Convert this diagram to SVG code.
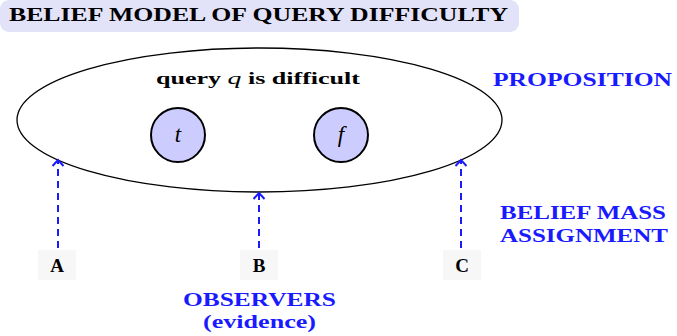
<svg xmlns="http://www.w3.org/2000/svg" width="677" height="336" viewBox="0 0 677 336">
<defs>
<marker id="ah" viewBox="0 0 12 12" refX="8" refY="6" markerWidth="12" markerHeight="12" markerUnits="userSpaceOnUse" orient="auto">
<path d="M2,0.5 L8,6 L2,11.5" fill="none" stroke="#1a1aff" stroke-width="2"/>
</marker>
<style>
text{font-family:"Liberation Serif","DejaVu Serif",serif;}
.t{font-weight:bold;}
.m{font-style:italic;font-weight:normal;}
.blue{fill:#1a1aff;}
.lbl{fill:#f7f7f7;}
.arr{stroke:#1a1aff;stroke-width:2;stroke-dasharray:7,5;fill:none;marker-end:url(#ah);}
.circ{fill:#ccccff;stroke:#000;stroke-width:2;}
</style>
</defs>
<rect width="677" height="336" fill="#fff"/>
<g id="title">
<rect x="0" y="0" width="519" height="32" rx="9" fill="#e2e2f9"/>
<text class="t" x="9" y="21" font-size="18" textLength="499" lengthAdjust="spacingAndGlyphs">BELIEF MODEL OF QUERY DIFFICULTY</text>
</g>
<g id="proposition">
<ellipse cx="259.5" cy="120" rx="242.5" ry="72" fill="none" stroke="#000" stroke-width="1.3"/>
<text class="t" x="258" y="84" font-size="16" text-anchor="middle" textLength="204" lengthAdjust="spacingAndGlyphs">query <tspan class="m" font-size="17">q</tspan> is difficult</text>
</g>
<g id="t">
<circle class="circ" cx="178" cy="135" r="27"/>
<text class="m" x="178" y="142" font-size="23" text-anchor="middle">t</text>
</g>
<g id="f">
<circle class="circ" cx="341" cy="135" r="27"/>
<text class="m" x="341" y="142" font-size="23" text-anchor="middle">f</text>
</g>
<g id="A">
<rect class="lbl" x="38" y="250" width="38" height="30"/>
<text class="t" x="57" y="272" font-size="19" text-anchor="middle">A</text>
</g>
<g id="B">
<rect class="lbl" x="240" y="250" width="38" height="30"/>
<text class="t" x="259" y="272" font-size="19" text-anchor="middle">B</text>
</g>
<g id="C">
<rect class="lbl" x="443" y="250" width="38" height="30"/>
<text class="t" x="462" y="272" font-size="19" text-anchor="middle">C</text>
</g>
<g id="connectors">
<line class="arr" x1="58" y1="248" x2="58" y2="160"/>
<line class="arr" x1="259" y1="248" x2="259" y2="193"/>
<line class="arr" x1="461" y1="248" x2="461" y2="160"/>
</g>
<g id="annotations">
<text class="t blue" x="493" y="86" font-size="18" textLength="179" lengthAdjust="spacingAndGlyphs">PROPOSITION</text>
<text class="t blue" x="500" y="219" font-size="18" textLength="166" lengthAdjust="spacingAndGlyphs">BELIEF MASS</text>
<text class="t blue" x="500" y="242" font-size="18" textLength="168" lengthAdjust="spacingAndGlyphs">ASSIGNMENT</text>
<text class="t blue" x="259.5" y="306" font-size="18" text-anchor="middle" textLength="153" lengthAdjust="spacingAndGlyphs">OBSERVERS</text>
<text class="t blue" x="259.5" y="328" font-size="18" text-anchor="middle" textLength="113" lengthAdjust="spacingAndGlyphs">(evidence)</text>
</g>
</svg>
